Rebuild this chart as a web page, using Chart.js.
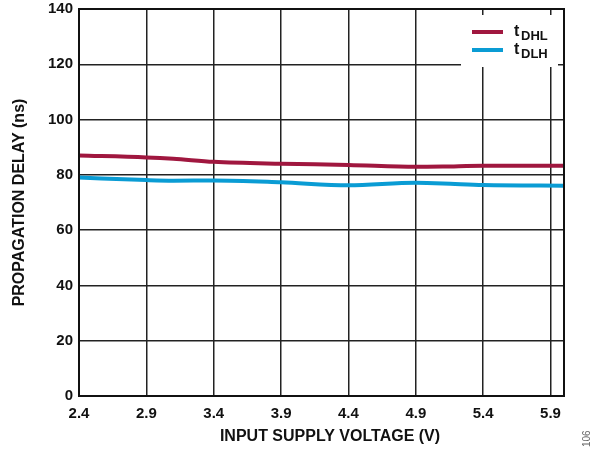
<!DOCTYPE html>
<html>
<head>
<meta charset="utf-8">
<script src="https://cdn.jsdelivr.net/npm/chart.js@4/dist/chart.umd.min.js"></script>
<style>
  html, body { margin: 0; padding: 0; background: #fff; }
  #wrap { width: 592px; height: 450px; position: relative; }
</style>
</head>
<body>
<div id="wrap"><canvas id="chart"></canvas></div>
<script>
// values
const voltage = [2.4, 2.9, 3.1, 3.4, 3.9, 4.4, 4.9, 5.1, 5.4, 6.0];
const tDHL = [87.0, 86.3, 85.8, 84.7, 84.0, 83.6, 82.9, 83.0, 83.3, 83.3];
const tDLH = [79.0, 78.1, 77.9, 78.0, 77.3, 76.2, 77.1, 76.9, 76.3, 76.1];
const xTicks = [2.4, 2.9, 3.4, 3.9, 4.4, 4.9, 5.4, 5.9];

const RED = '#A0173F';
const BLUE = '#0A9CD4';
const FONT = '"Liberation Sans", Arial, sans-serif';

function toPoints(ys) {
    return voltage.map((x, i) => ({ x: x, y: ys[i] }));
}

// frame, legend box with subscripts, x title and the figure number
const extras = {
    id: 'extras',
    afterDraw(chart) {
        const ctx = chart.ctx;
        const a = chart.chartArea;
        ctx.save();
        ctx.strokeStyle = '#111';
        ctx.lineWidth = 2;
        ctx.strokeRect(a.left, a.top, a.right - a.left, a.bottom - a.top);

        // legend
        ctx.fillStyle = '#fff';
        ctx.fillRect(461, 15, 97, 52);
        const items = [[RED, 'DHL', 32], [BLUE, 'DLH', 50]];
        items.forEach(([c, sub, y]) => {
            ctx.strokeStyle = c;
            ctx.lineWidth = 4;
            ctx.beginPath();
            ctx.moveTo(472, y);
            ctx.lineTo(503, y);
            ctx.stroke();
            ctx.fillStyle = '#111';
            ctx.textBaseline = 'alphabetic';
            ctx.textAlign = 'left';
            ctx.font = 'bold 16px ' + FONT;
            ctx.fillText('t', 514, y + 4);
            ctx.font = 'bold 13px ' + FONT;
            ctx.fillText(sub, 521, y + 8);
        });

        // x axis title
        ctx.fillStyle = '#111';
        ctx.textAlign = 'center';
        ctx.textBaseline = 'middle';
        ctx.font = 'bold 16px ' + FONT;
        ctx.fillText('INPUT SUPPLY VOLTAGE (V)', 330, 437);

        ctx.translate(590, 447);
        ctx.rotate(-Math.PI / 2);
        ctx.fillStyle = '#666';
        ctx.font = '10px ' + FONT;
        ctx.textAlign = 'left';
        ctx.textBaseline = 'alphabetic';
        ctx.fillText('106', 0, 0);
        ctx.restore();
    }
};

new Chart(document.getElementById('chart'), {
    type: 'line',
    data: {
        datasets: [
            { label: 'tDHL', data: toPoints(tDHL), borderColor: RED, borderWidth: 4, pointRadius: 0, tension: 0.4, cubicInterpolationMode: 'monotone' },
            { label: 'tDLH', data: toPoints(tDLH), borderColor: BLUE, borderWidth: 4, pointRadius: 0, tension: 0.4, cubicInterpolationMode: 'monotone' }
        ]
    },
    options: {
        responsive: true,
        maintainAspectRatio: false,
        animation: false,
        layout: { padding: { top: 9, right: 28, left: 0, bottom: 0 } },
        plugins: { legend: { display: false }, tooltip: { enabled: false } },
        scales: {
            x: {
                type: 'linear',
                min: 2.4,
                max: 6.0,
                afterBuildTicks: s => { s.ticks = xTicks.map(v => ({ value: v })); },
                afterFit: s => { s.height = 54; s.paddingLeft = 0; s.paddingRight = 0; },
                grid: { color: '#222', lineWidth: 1.5, drawTicks: false },
                border: { color: '#111', width: 2 },
                ticks: { color: '#111', padding: 9, font: { family: FONT, size: 15, weight: 'bold' }, callback: v => v.toFixed(1) }
            },
            y: {
                min: 0,
                max: 140,
                afterFit: s => { s.width = 79; s.paddingTop = 0; s.paddingBottom = 0; },
                grid: { color: '#222', lineWidth: 1.5, drawTicks: false },
                border: { color: '#111', width: 2 },
                ticks: { stepSize: 20, color: '#111', padding: 6, font: { family: FONT, size: 15, weight: 'bold' } },
                title: { display: true, text: 'PROPAGATION DELAY (ns)', color: '#111', padding: { top: 10, bottom: 4 }, font: { family: FONT, size: 16, weight: 'bold' } }
            }
        }
    },
    plugins: [extras]
});
</script>
</body>
</html>
